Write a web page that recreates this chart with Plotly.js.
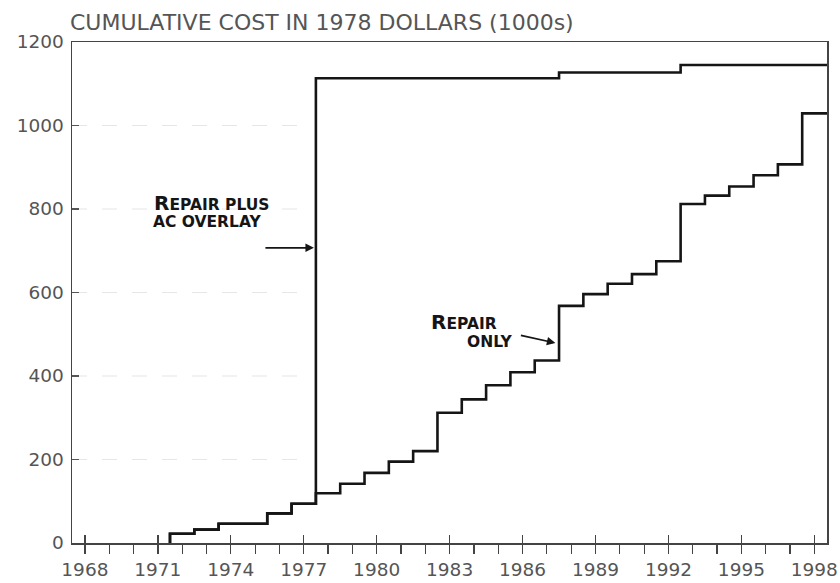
<!DOCTYPE html>
<html>
<head>
<meta charset="utf-8">
<script src="https://cdn.plot.ly/plotly-3.0.1.min.js"></script>
<style>
  html, body { margin: 0; padding: 0; background: #ffffff; }
  #chart { width: 840px; height: 583px; }
</style>
</head>
<body>
<div id="chart"></div>
<script>
// Cumulative cost (1000s of 1978 dollars); each value takes effect at its step year
const stepYears = [1971.5, 1972.5, 1973.5, 1974.5, 1975.5, 1976.5, 1977.5, 1978.5, 1979.5,
                   1980.5, 1981.5, 1982.5, 1983.5, 1984.5, 1985.5, 1986.5, 1987.5, 1988.5,
                   1989.5, 1990.5, 1991.5, 1992.5, 1993.5, 1994.5, 1995.5, 1996.5, 1997.5];
const repairOnly = [22, 32, 46, 46, 71, 94, 119, 142, 168,
                    195, 220, 312, 344, 378, 409, 437, 568, 596,
                    621, 644, 675, 812, 832, 854, 881, 907, 1029];
const repairPlusOverlay = [22, 32, 46, 46, 71, 94, 1113, 1113, 1113,
                           1113, 1113, 1113, 1113, 1113, 1113, 1113, 1127, 1127,
                           1127, 1127, 1127, 1145, 1145, 1145, 1145, 1145, 1145];
const periodEnd = 1998.52;

const xTickVals = [1968, 1971, 1974, 1977, 1980, 1983, 1986, 1989, 1992, 1995, 1998];
const xTickText = ['1968', '1971', '1974', '1977', '1980', '1983', '1986', '1989', '1992', '1995', '1998'];
const yTickVals = [0, 200, 400, 600, 800, 1000, 1200];
const yTickText = ['0', '200', '400', '600', '800', '1000', '1200'];

const xRange = [1967.47, periodEnd];
const minorYears = [];
for (let yr = xTickVals[0]; yr <= xTickVals[xTickVals.length - 1]; yr++) minorYears.push(yr);

function stepTrace(values) {
  // start on the zero line, then hold each value until the next step
  return {
    x: [stepYears[0]].concat(stepYears, [periodEnd]),
    y: [0].concat(values, [values[values.length - 1]]),
    type: 'scatter',
    mode: 'lines',
    line: { shape: 'hv', color: '#151515', width: 2.6 },
    hoverinfo: 'skip'
  };
}

// empty carrier so the overlaid axis (upper halves of the major ticks) gets drawn
const tickCarrier = {
  x: xTickVals, y: xTickVals.map(() => null), xaxis: 'x2', yaxis: 'y',
  type: 'scatter', mode: 'lines', hoverinfo: 'skip', showlegend: false
};

const data = [stepTrace(repairPlusOverlay), stepTrace(repairOnly), tickCarrier];

const axisFont = { family: 'DejaVu Sans', size: 18.5, color: '#555555' };
const handFont = { family: 'DejaVu Sans', size: 15.5, color: '#151515', weight: 'bold' };

// faint guide lines left of the overlay jump
const guides = yTickVals.slice(1, -1).map(v => ({
  type: 'line', xref: 'x', yref: 'y', layer: 'below',
  x0: xRange[0], x1: 1977.2, y0: v, y1: v,
  line: { color: '#e6e6e6', width: 1.2, dash: 'longdash' }
}));

const big = s => '<span style="font-size:20px">' + s + '</span>';

function note(x, y, text) {
  return { xref: 'x', yref: 'y', x: x, y: y, xanchor: 'left', yanchor: 'middle',
           text: text, showarrow: false, font: handFont };
}
function pointer(x, y, ax, ay) {
  return { xref: 'x', yref: 'y', x: x, y: y, ax: ax, ay: ay, text: '', showarrow: true,
           arrowhead: 2, arrowsize: 1, arrowwidth: 1.7, arrowcolor: '#151515' };
}

const layout = {
  width: 840, height: 583,
  margin: { l: 72, r: 13, t: 42, b: 40, pad: 0 },
  paper_bgcolor: '#ffffff', plot_bgcolor: '#ffffff',
  showlegend: false,
  title: {
    text: 'CUMULATIVE COST IN 1978 DOLLARS (1000s)',
    x: 70 / 840, xanchor: 'left', y: 1 - 22 / 583, yanchor: 'middle',
    font: { family: 'DejaVu Sans', size: 22, color: '#555555' }
  },
  xaxis: {
    range: xRange, tickmode: 'array', tickvals: xTickVals, ticktext: xTickText,
    ticks: 'outside', ticklen: 9, tickwidth: 1.4, tickcolor: '#444',
    minor: { tickmode: 'array', tickvals: minorYears, ticks: 'outside', ticklen: 9, tickwidth: 1.2, tickcolor: '#444', showgrid: false },
    showline: true, linecolor: '#444', linewidth: 1.5, mirror: true,
    showgrid: false, zeroline: false, tickfont: axisFont, ticklabelstandoff: 0
  },
  xaxis2: {
    overlaying: 'x', anchor: 'y', side: 'bottom', range: xRange,
    tickmode: 'array', tickvals: xTickVals, ticks: 'inside', ticklen: 8, tickwidth: 1.4, tickcolor: '#444',
    showticklabels: false, showline: false, showgrid: false, zeroline: false
  },
  yaxis: {
    range: [0, 1200], tickmode: 'array', tickvals: yTickVals, ticktext: yTickText,
    ticks: 'inside', ticklen: 7, tickwidth: 1.4, tickcolor: '#555',
    showline: true, linecolor: '#444', linewidth: 1.5, mirror: true,
    showgrid: false, zeroline: false, tickfont: axisFont, ticklabelstandoff: 3
  },
  shapes: guides,
  annotations: [
    note(1970.76, 814, big('R') + 'EPAIR PLUS'),
    note(1970.72, 769, 'AC OVERLAY'),
    pointer(1977.42, 707, -50, 0),
    note(1982.15, 529, big('R') + 'EPAIR'),
    note(1983.62, 481, 'ONLY'),
    pointer(1987.35, 479, -36, -8)
  ]
};

Plotly.newPlot('chart', data, layout, { displayModeBar: false, staticPlot: true });
</script>
</body>
</html>
